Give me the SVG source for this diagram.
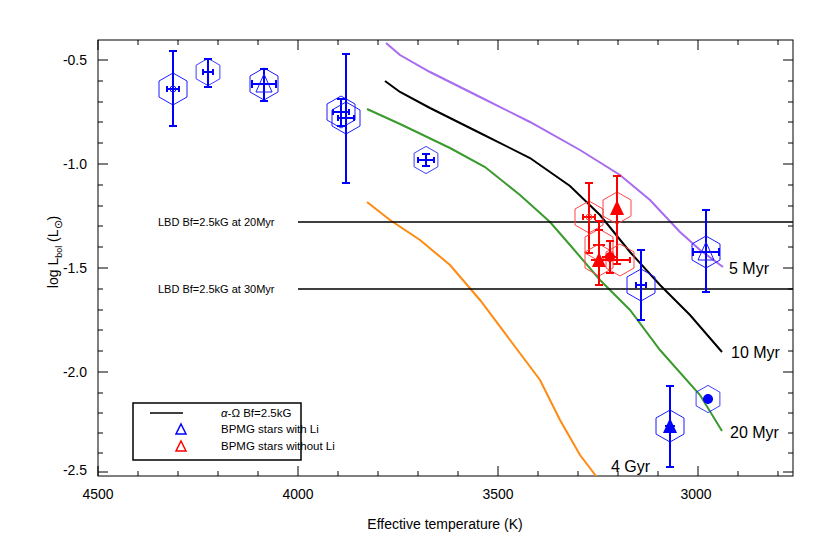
<svg xmlns="http://www.w3.org/2000/svg" width="830" height="554" viewBox="0 0 830 554">
<style>
text{font-family:"Liberation Sans",Arial,sans-serif;fill:#000}
.t{font-size:14px}
.ax{stroke:#000;stroke-width:1;fill:none}
.c{fill:none;stroke-width:2}
.hb{fill:none;stroke:#1a1aff;stroke-width:1}
.eb{stroke:#00f;stroke-width:2;fill:none}
.hr{fill:none;stroke:#f44;stroke-width:1}
.er{stroke:#f00;stroke-width:2;fill:none}
</style>
<defs>
<polygon id="hex" points="0,-16 14,-8 14,8 0,16 -14,8 -14,-8"/>
</defs>
<rect width="830" height="554" fill="#fff"/>
<g id="axes">
<rect x="98" y="40" width="695" height="436" class="ax" stroke="#555"/>
<path class="ax" stroke="#555" d="M98,476v-10M298,476v-10M498,476v-10M698,476v-10M98,40v10M298,40v10M498,40v10M698,40v10
M138,476v-5M178,476v-5M218,476v-5M258,476v-5M338,476v-5M378,476v-5M418,476v-5M458,476v-5M538,476v-5M578,476v-5M618,476v-5M658,476v-5M738,476v-5M778,476v-5
M138,40v5M178,40v5M218,40v5M258,40v5M338,40v5M378,40v5M418,40v5M458,40v5M538,40v5M578,40v5M618,40v5M658,40v5M738,40v5M778,40v5
M98,60h10M98,164h10M98,268h10M98,372h10M98,472h10M793,60h-10M793,164h-10M793,268h-10M793,372h-10M793,472h-10
M98,81h5M98,102h5M98,122h5M98,143h5M98,185h5M98,206h5M98,226h5M98,247h5M98,289h5M98,310h5M98,330h5M98,351h5M98,393h5M98,413h5M98,433h5M98,453h5
M793,81h-5M793,102h-5M793,122h-5M793,143h-5M793,185h-5M793,206h-5M793,226h-5M793,247h-5M793,289h-5M793,310h-5M793,330h-5M793,351h-5M793,393h-5M793,413h-5M793,433h-5M793,453h-5"/>
<g class="t" text-anchor="middle">
<text x="98" y="499">4500</text><text x="298" y="499">4000</text><text x="498" y="499">3500</text><text x="696" y="499">3000</text>
</g>
<g class="t" text-anchor="end">
<text x="87" y="65">-0.5</text><text x="87" y="169">-1.0</text><text x="87" y="273">-1.5</text><text x="87" y="377">-2.0</text><text x="87" y="475">-2.5</text>
</g>
<text x="445" y="529" class="t" text-anchor="middle">Effective temperature (K)</text>
<text transform="translate(58,252) rotate(-90)" class="t" text-anchor="middle">log L<tspan font-size="9" dy="4">bol</tspan><tspan dy="-4"> (L</tspan><tspan font-size="11" dy="4">⊙</tspan><tspan dy="-4">)</tspan></text>
</g>
<g id="connectors">
<path class="c" stroke="#a86af0" d="M386,43 L400,55 L430,72 L480,97 L530,122 L580,150 L620,175 L650,200 L680,232 L700,250 L723,267"/>
<path class="c" stroke="#000" d="M385,81 L400,92 L430,108 L480,133 L530,158 L570,186 L600,215 L630,252 L660,285 L690,315 L722,352"/>
<path class="c" stroke="#3a9a2e" d="M367,109 L400,124 L450,148 L485,167 L520,195 L550,222 L570,245 L600,280 L630,310 L660,350 L700,395 L722,431"/>
<path class="c" stroke="#ff8a10" d="M367,202 L390,220 L420,240 L450,265 L480,300 L510,340 L540,380 L560,420 L580,455 L596,476"/>
<path stroke="#000" stroke-width="1.5" d="M298,222H793M298,289H793"/>
</g>
<g id="labels" class="t">
<text x="158" y="226" font-size="11">LBD Bf=2.5kG at 20Myr</text>
<text x="158" y="293" font-size="11">LBD Bf=2.5kG at 30Myr</text>
<text x="729" y="274" font-size="16">5 Myr</text>
<text x="731" y="358" font-size="16">10 Myr</text>
<text x="730" y="438" font-size="16">20 Myr</text>
<text x="611" y="472" font-size="16">4 Gyr</text>
</g>
<g id="blue-stars">
<g transform="translate(173,89)"><use href="#hex" class="hb"/><path class="eb" d="M0,-38v75M-4,-38h8M-4,37h8M-6,0h12M-6,-3v6M6,-3v6"/><circle r="3" class="hb"/></g>
<g transform="translate(208,72)"><use href="#hex" class="hb" transform="scale(0.85)"/><path class="eb" d="M0,-13v28M-4,-13h8M-4,15h8M-5,0h10M-5,-3v6M5,-3v6"/></g>
<g transform="translate(264,84)"><use href="#hex" class="hb"/><path class="eb" d="M0,-15v32M-4,-15h8M-4,17h8M-12,0h24M-12,-4v8M12,-4v8"/><polygon points="0,-10 8,8 -8,8" class="hb"/></g>
<g transform="translate(341,112)"><use href="#hex" class="hb"/><path class="eb" d="M0,-13v27M-4,-13h8M-4,14h8M-8,0h16M-8,-3v6M8,-3v6"/></g>
<g transform="translate(346,118)"><use href="#hex" class="hb"/><path class="eb" d="M0,-64v129M-4,-64h8M-4,65h8M-8,0h16M-8,-3v6M8,-3v6"/></g>
<g transform="translate(426,160)"><use href="#hex" class="hb" transform="scale(0.85)"/><path class="eb" d="M0,-6v12M-4,-6h8M-4,6h8M-8,0h16M-8,-3v6M8,-3v6"/></g>
<g transform="translate(641,285)"><use href="#hex" class="hb"/><path class="eb" d="M0,-35v70M-4,-35h8M-4,35h8M-5,0h10M-5,-3v6M5,-3v6"/></g>
<g transform="translate(706,252)"><use href="#hex" class="hb"/><path class="eb" d="M0,-42v82M-4,-42h8M-4,40h8M-13,0h26M-13,-4v8M13,-4v8"/><polygon points="0,-10 8,8 -8,8" class="hb"/></g>
<g transform="translate(670,426)"><use href="#hex" class="hb"/><path class="eb" d="M0,-40v81M-4,-40h8M-4,41h8M-5,0h10"/><polygon points="0,-8 7,7 -7,7" fill="#00f"/></g>
<g transform="translate(708,399)"><use href="#hex" class="hb" transform="scale(0.85)"/><path class="eb" d="M0,-5v10M-5,0h10"/><circle r="5" fill="#00f"/></g>
</g>
<g id="red-stars">
<g transform="translate(589,217)"><use href="#hex" class="hr"/><path class="er" d="M0,-34v70M-4,-34h8M-4,36h8M-6,0h12M-6,-3v6M6,-3v6"/><circle r="3" class="hr"/></g>
<g transform="translate(617,208)"><use href="#hex" class="hr"/><path class="er" d="M0,-32v88M-4,-32h8M-4,56h8"/><polygon points="0,-8 7,7 -7,7" fill="#f00"/></g>
<g transform="translate(620,260)"><use href="#hex" class="hr"/><path class="er" d="M-10,0h20M-10,-3v6M10,-3v6"/></g>
<g transform="translate(599,245)"><use href="#hex" class="hr"/><path class="er" d="M0,-24v50M-4,-24h8M-6,0h12"/></g>
<g transform="translate(599,260)"><use href="#hex" class="hr"/><path class="er" d="M0,-30v55M-4,-30h8M-4,25h8M-8,0h16"/><polygon points="0,-8 7,7 -7,7" fill="#f00"/></g>
<g transform="translate(610,257)"><path class="er" d="M0,-16v32M-4,-16h8M-4,16h8M-8,0h16"/><circle r="5" fill="#f00"/></g>
</g>
<g id="legend">
<rect x="133" y="403" width="168" height="57" fill="#fff" stroke="#000" stroke-width="1.5"/>
<path d="M150,413h33" stroke="#000" stroke-width="1.5"/>
<text x="221" y="417" font-size="11.5"><tspan font-style="italic">α</tspan>-Ω Bf=2.5kG</text>
<polygon points="181,424 186,434 176,434" fill="none" stroke="#00f" stroke-width="1.5"/>
<polygon points="181,441 186,451 176,451" fill="none" stroke="#f00" stroke-width="1.5"/>
<text x="221" y="433" font-size="11.5">BPMG stars with Li</text>
<text x="221" y="450" font-size="11.5">BPMG stars without Li</text>
</g>
</svg>
